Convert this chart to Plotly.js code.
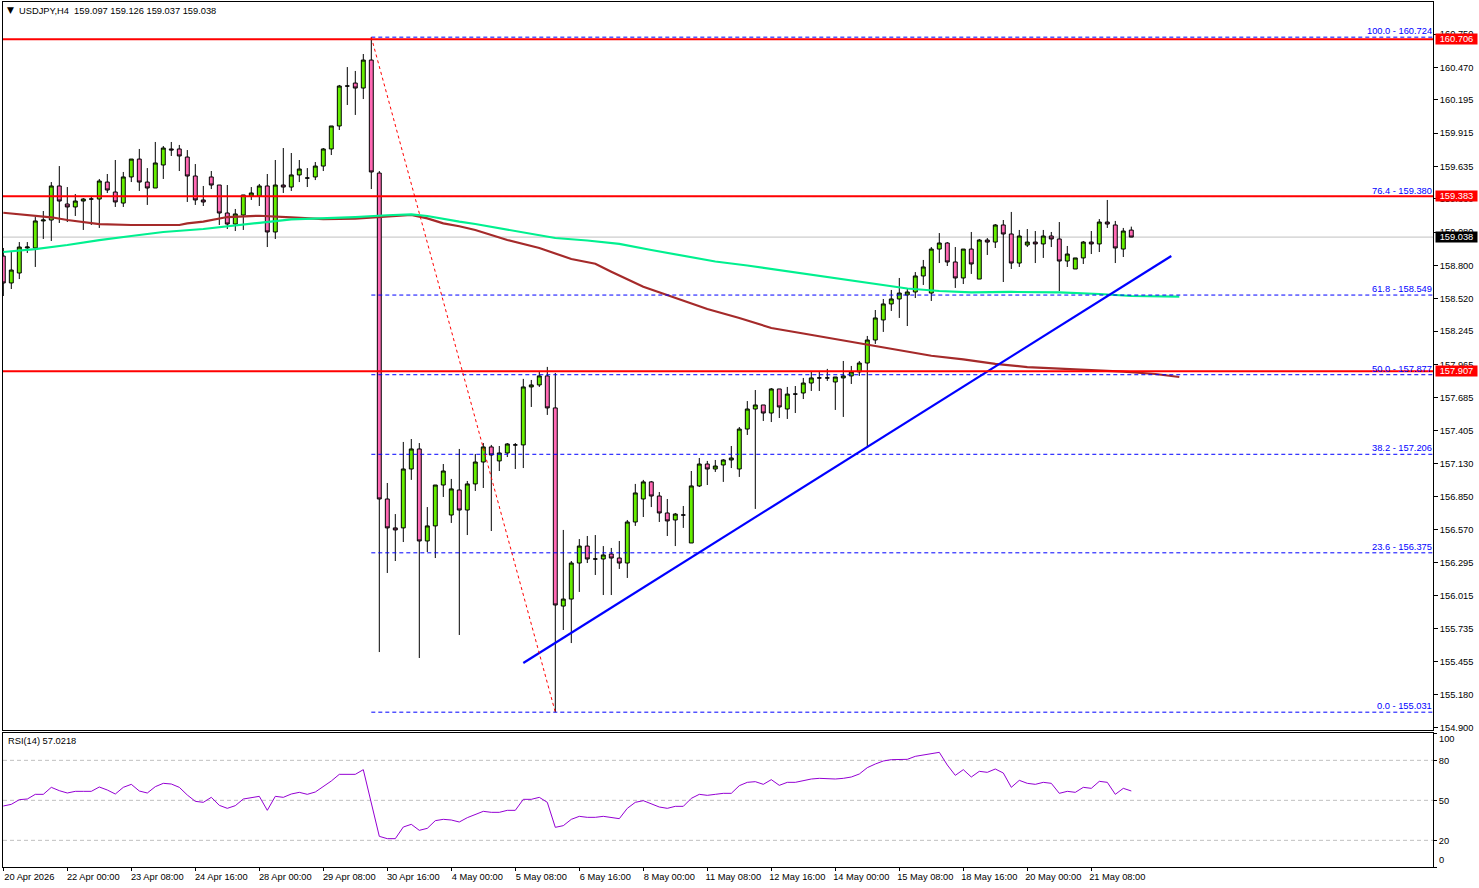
<!DOCTYPE html>
<html><head><meta charset="utf-8">
<script src="https://cdn.plot.ly/plotly-3.0.1.min.js"></script>
<style>html,body{margin:0;padding:0;background:#fff}#c{width:1479px;height:888px}</style>
</head><body><div id="c"></div>
<script>
const opens=[158.878,158.651,158.735,158.946,158.946,159.174,159.182,159.469,159.317,159.292,159.342,159.359,159.359,159.502,159.418,159.325,159.545,159.696,159.502,159.452,159.646,159.781,159.781,159.713,159.553,159.351,159.545,159.477,159.241,159.148,159.224,159.384,159.384,159.469,159.081,159.477,159.460,159.562,159.536,159.545,159.637,159.781,159.975,160.312,160.337,160.295,160.531,159.578,156.829,156.585,156.585,157.082,157.251,156.475,156.602,156.947,156.694,156.905,156.736,156.956,157.141,157.268,157.150,157.217,157.285,157.285,157.774,157.791,157.867,157.597,155.926,155.985,156.289,156.432,156.323,156.323,156.365,156.331,156.289,156.635,156.829,156.973,156.854,156.711,156.652,156.694,156.458,156.939,157.124,157.082,157.116,157.158,157.082,157.419,157.588,157.622,157.554,157.757,157.588,157.714,157.723,157.807,157.850,157.850,157.816,157.850,157.867,157.901,157.976,158.170,158.339,158.474,158.516,158.550,158.575,158.710,158.566,158.937,158.988,158.828,158.693,158.937,158.684,159.013,158.996,159.140,159.064,158.819,158.971,158.996,158.980,159.047,159.022,158.836,158.769,158.862,158.996,158.980,159.165,159.140,158.937,159.097];
const highs=[158.946,158.912,158.996,158.996,159.207,159.258,159.502,159.637,159.460,159.401,159.367,159.384,159.528,159.570,159.688,159.587,159.696,159.781,159.620,159.840,159.806,159.840,159.815,159.772,159.654,159.469,159.595,159.477,159.477,159.275,159.393,159.460,159.486,159.570,159.688,159.789,159.747,159.688,159.620,159.671,159.789,159.975,160.321,160.472,160.439,160.582,160.724,159.595,156.964,156.702,157.310,157.335,157.301,156.761,156.947,157.124,156.998,157.251,156.981,157.209,157.301,157.285,157.276,157.301,157.301,157.842,157.833,157.901,157.943,157.892,156.568,156.306,156.491,156.517,156.525,156.432,156.416,156.475,156.652,156.956,156.990,156.981,156.888,156.829,156.711,156.770,157.065,157.175,157.150,157.158,157.166,157.276,157.436,157.655,157.748,157.622,157.765,157.757,157.774,157.782,157.850,157.909,157.901,157.926,157.858,157.993,157.951,157.993,158.204,158.423,158.516,158.592,158.693,158.609,158.743,158.845,158.954,159.072,158.996,158.954,158.937,159.081,159.022,159.030,159.148,159.182,159.250,159.098,159.106,159.089,159.098,159.081,159.165,158.963,158.862,159.005,159.089,159.190,159.351,159.174,159.115,159.126];
const lows=[158.541,158.600,158.684,158.904,158.786,159.022,159.005,159.157,159.165,159.216,159.098,159.140,159.115,159.410,159.292,159.292,159.502,159.427,159.309,159.452,159.528,159.722,159.595,159.334,159.309,159.300,159.443,159.140,159.106,159.089,159.098,159.351,159.300,158.954,159.022,159.410,159.427,159.502,159.460,159.519,159.595,159.730,159.941,160.152,160.068,160.202,159.443,155.538,156.205,156.306,156.466,156.990,155.488,156.382,156.331,156.846,156.627,155.682,156.525,156.897,156.922,156.559,157.065,157.183,157.082,157.090,157.605,157.774,157.538,155.031,155.724,155.614,156.045,156.289,156.188,156.019,156.019,156.239,156.163,156.602,156.677,156.761,156.635,156.517,156.432,156.585,156.458,156.930,156.947,157.057,156.973,157.090,157.015,157.369,156.745,157.487,157.478,157.512,157.504,157.554,157.672,157.740,157.740,157.825,157.580,157.521,157.799,157.867,157.268,158.137,158.238,158.415,158.356,158.288,158.524,158.634,158.499,158.819,158.794,158.609,158.642,158.727,158.684,158.887,158.946,158.659,158.769,158.786,158.954,158.819,158.862,158.954,158.583,158.786,158.769,158.811,158.895,158.912,159.115,158.819,158.870,159.037];
const closes=[158.651,158.760,158.954,158.954,159.174,159.182,159.469,159.342,159.292,159.342,159.359,159.359,159.511,159.435,159.334,159.545,159.696,159.502,159.452,159.663,159.789,159.773,159.722,159.553,159.351,159.334,159.477,159.241,159.148,159.233,159.393,159.410,159.469,159.081,159.477,159.460,159.562,159.612,159.536,159.637,159.781,159.975,160.312,160.312,160.295,160.531,159.587,156.829,156.585,156.568,157.082,157.251,156.475,156.602,156.947,157.065,156.914,156.736,156.956,157.141,157.268,157.200,157.217,157.293,157.285,157.774,157.791,157.867,157.597,155.935,155.985,156.289,156.432,156.323,156.323,156.357,156.331,156.289,156.635,156.880,156.973,156.854,156.711,156.644,156.702,156.694,156.939,157.124,157.082,157.107,157.158,157.175,157.419,157.588,157.622,157.554,157.757,157.605,157.714,157.714,157.807,157.850,157.850,157.850,157.858,157.867,157.901,157.976,158.170,158.356,158.474,158.516,158.566,158.575,158.710,158.786,158.937,158.988,158.828,158.693,158.937,158.811,159.013,158.996,159.140,159.064,158.819,159.047,158.996,158.980,159.047,159.022,158.836,158.895,158.862,158.996,158.980,159.165,159.148,158.946,159.089,159.038];
const brownIdx=[0,4,6,8,10,12,16,22,23,25,28,32,36,40,44,48,51,53,55,57,59,61,63,67,71,74,76,80,84,88,92,96,100,104,108,112,116,120,124,128,134,140,144,147];
const brownMA=[159.243,159.216,159.205,159.182,159.168,159.148,159.140,159.140,159.154,159.168,159.207,159.218,159.205,159.190,159.193,159.210,159.224,159.196,159.154,159.129,159.098,159.056,159.013,158.946,158.853,158.813,158.746,158.619,158.524,158.431,158.356,158.271,158.225,158.178,158.128,158.086,158.037,158.007,157.968,157.942,157.923,157.904,157.883,157.858];
const greenIdx=[0,4,8,12,16,20,25,28,32,36,40,44,48,51,53,55,57,59,63,67,69,73,77,81,85,89,93,97,101,105,109,113,117,121,126,132,137,141,147];
const greenMA=[158.912,158.937,158.971,159.013,159.047,159.081,159.106,159.131,159.158,159.188,159.196,159.207,159.222,159.230,159.216,159.190,159.168,159.148,159.102,159.056,159.030,159.009,158.980,158.929,158.878,158.832,158.798,158.760,158.718,158.680,158.642,158.604,158.583,158.571,158.575,158.572,158.558,158.541,158.535];
const rsi=[45.75,47,50.5,51,54.5,54.5,59.75,57.25,55.5,56.75,56.75,56.75,60,57.75,54.75,59.75,62,57,55.5,60.25,62.75,62.25,59.75,54,49.25,48.5,52.25,46.25,44,46,51,52,53,42.5,53,52.25,54.75,56,54.5,56.25,60.25,64.5,69.5,69.5,69.5,73,49,23,21.25,21.25,30,32,27.5,29,34.75,35.75,35.25,33.75,37,39.5,41.75,41,41,42.5,42.5,50.75,50.75,52.25,48.5,29.75,31,35.75,38,37.25,37.25,38,37,36.25,44,48.5,49.75,47.5,45,44,45.5,45.5,51.5,54.5,53.75,54.5,55.25,55.25,61,63.5,64,62,65.5,61.25,63.5,63.5,65,66,66.5,66,66,66.5,67.5,69.75,74.5,77.25,79.5,80.5,80.75,80.75,83,84,85.25,86,76.5,68.75,73,67.5,71.75,71,73.5,70.5,59.75,65,62.75,62,63.5,62.75,55.25,56.75,56,59.75,59,64.25,63.5,54.5,59,57.02];
const dateIdx=[0,8,16,24,32,40,48,56,64,72,80,88,96,104,112,120,128,136];
const dateLabels=["20 Apr 2026","22 Apr 00:00","23 Apr 08:00","24 Apr 16:00","28 Apr 00:00","29 Apr 08:00","30 Apr 16:00","4 May 00:00","5 May 08:00","6 May 16:00","8 May 00:00","11 May 08:00","12 May 16:00","14 May 00:00","15 May 08:00","18 May 16:00","20 May 00:00","21 May 08:00"];
const priceTicks=[160.750,160.470,160.195,159.915,159.635,159.360,159.080,158.800,158.520,158.245,157.965,157.685,157.405,157.130,156.850,156.570,156.295,156.015,155.735,155.455,155.180,154.900];
const resistance=[160.706,159.383,157.907];
const lastPrice=159.038;
const fibLevels=[100,76.4,61.8,50,38.2,23.6,0];
const fibPrices=[160.724,159.380,158.549,157.877,157.206,156.375,155.031];
const fibStartIdx=46, fibEndIdx=69;
const trendIdx=[65,146];
const trendPrice=[155.446,158.878];
const rsiTicks=[100,80,50,20,0];
const rsiLevels=[80,50,20];

const W=1479,H=888,L=3,R=1433,mainTop=2,mainBot=730,rsiTop=732.5,rsiBot=867;
const xRange=[(L-3.3)/8,(R-3.3)/8];
const font='"Liberation Sans", Arial, sans-serif';
const fs=9.3;
const px=v=>v/W, py=v=>1-v/H;
const idx=opens.map((_,i)=>i);

const traces=[
 {type:'candlestick',x:idx,open:opens,high:highs,low:lows,close:closes,xaxis:'x',yaxis:'y',whiskerwidth:0,hoverinfo:'skip',showlegend:false,
  increasing:{fillcolor:'#66EE00',line:{color:'#000',width:1}},decreasing:{fillcolor:'#FF69B4',line:{color:'#000',width:1}}},
 {type:'scatter',mode:'lines',x:brownIdx,y:brownMA,xaxis:'x',yaxis:'y',line:{color:'#A52A2A',width:2.2},hoverinfo:'skip',showlegend:false},
 {type:'scatter',mode:'lines',x:greenIdx,y:greenMA,xaxis:'x',yaxis:'y',line:{color:'#00F08F',width:2.2},hoverinfo:'skip',showlegend:false},
 {type:'scatter',mode:'lines',x:trendIdx,y:trendPrice,xaxis:'x',yaxis:'y',line:{color:'#0000FF',width:2.2},hoverinfo:'skip',showlegend:false},
 {type:'scatter',mode:'lines',x:idx,y:rsi,xaxis:'x2',yaxis:'y2',line:{color:'#9400D3',width:1},hoverinfo:'skip',showlegend:false}
];

const shapes=[];
shapes.push({type:'line',xref:'paper',yref:'y',x0:px(L),x1:px(R),y0:lastPrice,y1:lastPrice,line:{color:'#C0C0C0',width:1},layer:'below'});
fibPrices.forEach(p=>shapes.push({type:'line',xref:'x',yref:'y',x0:fibStartIdx,x1:xRange[1],y0:p,y1:p,line:{color:'#0000FF',width:1,dash:'4px,3px'}}));
shapes.push({type:'line',xref:'x',yref:'y',x0:fibStartIdx,x1:fibEndIdx,y0:fibPrices[0],y1:fibPrices[6],line:{color:'#FF0000',width:1,dash:'3px,3px'}});
resistance.forEach(p=>shapes.push({type:'line',xref:'paper',yref:'y',x0:px(L),x1:px(R),y0:p,y1:p,line:{color:'#FF0000',width:2}}));
rsiLevels.forEach(v=>shapes.push({type:'line',xref:'paper',yref:'y2',x0:px(L),x1:px(R),y0:v,y1:v,line:{color:'#C0C0C0',width:1,dash:'4px,3px'},layer:'below'}));

const tag=(price,bg)=>({xref:'paper',yref:'y',x:px(1435),y:price,xanchor:'left',yanchor:'middle',text:price.toFixed(3),showarrow:false,
  bgcolor:bg,width:41,height:10,borderpad:0,align:'center',font:{family:font,size:fs,color:'#fff'}});
const annotations=[
 {xref:'paper',yref:'paper',x:px(5),y:py(10),xanchor:'left',yanchor:'middle',text:'▼',showarrow:false,font:{family:'DejaVu Sans',size:9,color:'#000'}},
 {xref:'paper',yref:'paper',x:px(17),y:py(10.5),xanchor:'left',yanchor:'middle',text:'USDJPY,H4&nbsp;&nbsp;159.097 159.126 159.037 159.038',showarrow:false,font:{family:font,size:fs,color:'#000'}},
 {xref:'paper',yref:'paper',x:px(6),y:py(741),xanchor:'left',yanchor:'middle',text:'RSI(14) 57.0218',showarrow:false,font:{family:font,size:fs,color:'#000'}},
 {xref:'paper',yref:'y2',x:px(1437),y:100,xanchor:'left',yanchor:'middle',yshift:-5,text:'100',showarrow:false,font:{family:font,size:fs,color:'#000'}},
 {xref:'paper',yref:'y2',x:px(1437),y:0,xanchor:'left',yanchor:'middle',yshift:7,text:'0',showarrow:false,font:{family:font,size:fs,color:'#000'}}
];
fibPrices.forEach((p,i)=>annotations.push({xref:'paper',yref:'y',x:px(1433),y:p,xanchor:'right',yanchor:'bottom',yshift:0,
  text:fibLevels[i].toFixed(1)+' - '+p.toFixed(3),showarrow:false,borderpad:0,font:{family:font,size:fs,color:'#0000FF'}}));
annotations.push(tag(resistance[0],'#FF0000'),tag(resistance[1],'#FF0000'),tag(resistance[2],'#FF0000'),tag(lastPrice,'#000000'));

const layout={width:W,height:H,margin:{l:0,r:0,t:0,b:0},paper_bgcolor:'#fff',plot_bgcolor:'#fff',showlegend:false,boxgap:0.3,
 font:{family:font,size:fs,color:'#000'},hovermode:false,dragmode:false,
 xaxis:{domain:[px(L),px(R)],range:xRange,anchor:'y',type:'linear',rangeslider:{visible:false},showgrid:false,zeroline:false,showticklabels:false,ticks:'',showline:true,mirror:true,linecolor:'#000',linewidth:1},
 yaxis:{domain:[py(mainBot),py(mainTop)],range:[161.0375-0.008434*mainBot,161.0375-0.008434*mainTop],anchor:'x',side:'right',showgrid:false,zeroline:false,
   tickmode:'array',tickvals:priceTicks,ticktext:priceTicks.map(v=>v.toFixed(3)),ticks:'outside',ticklen:4,tickwidth:1,tickcolor:'#000',showline:true,mirror:true,linecolor:'#000',linewidth:1,tickfont:{family:font,size:fs,color:'#000'}},
 xaxis2:{domain:[px(L),px(R)],range:xRange,anchor:'y2',type:'linear',showgrid:false,zeroline:false,tickmode:'array',tickvals:dateIdx,ticktext:dateLabels,ticks:'outside',ticklen:3,tickwidth:1,tickcolor:'#000',tickangle:0,ticklabelshift:26,ticklabelstandoff:-2,showline:true,mirror:true,linecolor:'#000',linewidth:1,tickfont:{family:font,size:fs,color:'#000'}},
 yaxis2:{domain:[py(rsiBot),py(rsiTop)],range:[0,(rsiBot-rsiTop)/1.3333],anchor:'x2',side:'right',showgrid:false,zeroline:false,tickmode:'array',tickvals:rsiTicks,ticktext:['','80','50','20',''],ticks:'outside',ticklen:3,tickwidth:1,tickcolor:'#000',showline:true,mirror:true,linecolor:'#000',linewidth:1,tickfont:{family:font,size:fs,color:'#000'}},
 shapes:shapes,annotations:annotations};
Plotly.newPlot('c',traces,layout,{displayModeBar:false,staticPlot:true});
</script></body></html>
